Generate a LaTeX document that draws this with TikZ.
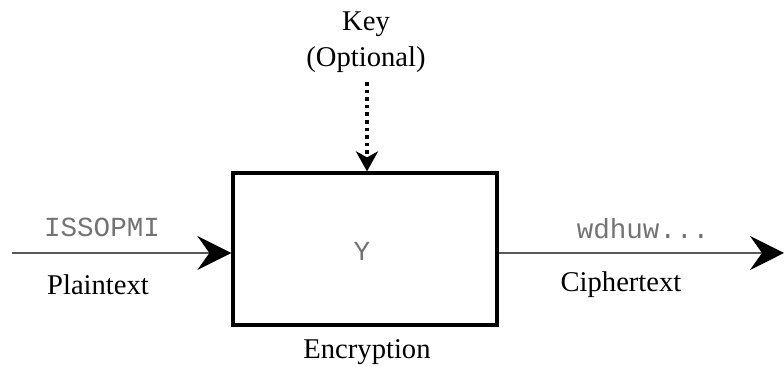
\documentclass[tikz,border=0pt]{standalone}
\usepackage{fontspec}
\setmainfont{Liberation Serif}
\setmonofont{Liberation Mono}
\usetikzlibrary{
    arrows.meta,
    positioning
}

\begin{document}
\begin{tikzpicture}[x=0.5pt,y=-0.5pt,>={Stealth[length=17pt,width=17pt,inset=6pt,color=black]},semithick,
    font=\fontsize{14.3}{17}\selectfont]
    \tikzstyle{block}=[draw, line width=1.6pt, minimum width=132pt, minimum height=76pt, inner sep=0pt]
    \tikzstyle{data}=[font=\fontsize{13.8}{16}\selectfont\ttfamily, text=black!55]
    \tikzstyle{flow}=[->, line width=1pt, draw=black!65]

    \useasboundingbox (0,0) rectangle (784,367);

    \node[block] (E) at (365,249) {};
    \node[data] (Y) at (362,251) {Y};
    \node (EL) at (367,352) {Encryption};
    \node (K) at (366,24) {Key};
    \node (KO) at (366,60) {(Optional)};
    \coordinate (KS) at (367,82);
    \coordinate (IN) at (12,253);
    \coordinate (OUT) at (784,253);
    \node[data] (P) at (102,227) {ISSOPMI};
    \node (PL) at (98,285) {Plaintext};
    \node[data] (C) at (643,229) {wdhuw...};
    \node (CL) at (621,285) {Ciphertext};

    \draw[flow] (IN) -- (E.west |- IN);
    \draw[flow] (E.east |- OUT) -- (OUT);
    \draw[->, line width=1.8pt, dotted, >={Stealth[length=10pt,width=11pt,inset=3pt]}] (KS) -- (E.north -| KS);
\end{tikzpicture}
\end{document}
